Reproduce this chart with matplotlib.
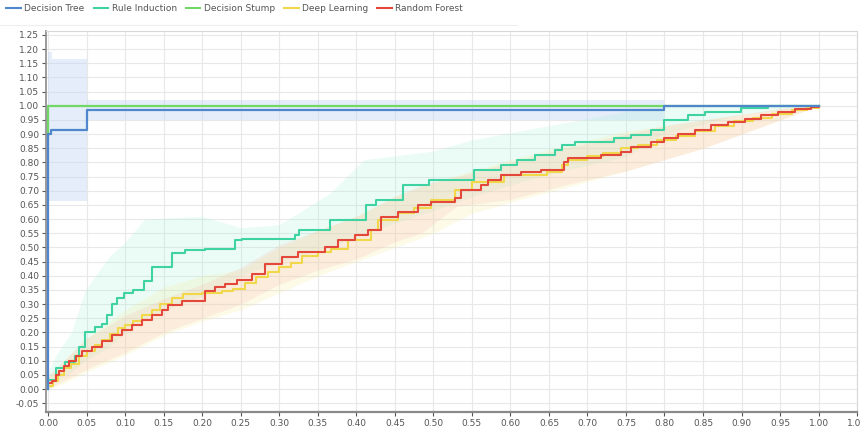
import matplotlib
matplotlib.use("Agg")
import matplotlib.pyplot as plt
import numpy as np

# curve data
dt_x = [0.0, 0.0, 0.004, 0.05, 0.80, 1.0]
dt_y = [0.0, 0.90, 0.915, 0.985, 1.0, 1.0]
dt_band_x = [0.0, 0.005, 0.05, 0.80, 1.0]
dt_band_lo = [0.665, 0.665, 0.95, 1.0, 1.0]
dt_band_hi = [1.19, 1.165, 1.02, 1.0, 1.0]

ds_x = [0.0, 0.0, 1.0]
ds_y = [0.90, 1.0, 1.0]

ri_x = [0.0, 0.010, 0.022, 0.035, 0.040, 0.048, 0.061, 0.070, 0.076, 0.083, 0.089, 0.098,
        0.110, 0.124, 0.135, 0.161, 0.178, 0.204, 0.242, 0.251, 0.320, 0.326, 0.366, 0.412,
        0.425, 0.460, 0.494, 0.553, 0.588, 0.609, 0.632, 0.658, 0.667, 0.684, 0.735, 0.757,
        0.783, 0.800, 0.830, 0.852, 0.899, 0.934, 1.0]
ri_y = [0.032, 0.073, 0.097, 0.115, 0.150, 0.200, 0.220, 0.230, 0.260, 0.300, 0.320, 0.340,
        0.350, 0.380, 0.430, 0.480, 0.490, 0.495, 0.525, 0.530, 0.545, 0.560, 0.596, 0.649,
        0.667, 0.720, 0.737, 0.773, 0.790, 0.808, 0.826, 0.844, 0.861, 0.873, 0.885, 0.897,
        0.914, 0.950, 0.967, 0.979, 0.991, 0.998, 1.0]
ri_band_x = [0.0, 0.01, 0.03, 0.048, 0.08, 0.10, 0.125, 0.20, 0.25, 0.30, 0.365, 0.41,
             0.50, 0.55, 0.65, 0.75, 0.80, 0.90, 1.0]
ri_band_lo = [0.0, 0.03, 0.06, 0.10, 0.15, 0.20, 0.25, 0.33, 0.40, 0.45, 0.50, 0.55,
              0.63, 0.68, 0.76, 0.82, 0.90, 0.97, 1.0]
ri_band_hi = [0.06, 0.12, 0.20, 0.35, 0.47, 0.52, 0.60, 0.61, 0.57, 0.58, 0.69, 0.81,
              0.84, 0.88, 0.93, 0.98, 1.0, 1.0, 1.0]

dl_x = [0.0, 0.006, 0.012, 0.020, 0.030, 0.040, 0.050, 0.060, 0.070, 0.080, 0.090, 0.100,
        0.110, 0.122, 0.135, 0.145, 0.160, 0.175, 0.200, 0.225, 0.240, 0.255, 0.270, 0.285,
        0.300, 0.315, 0.330, 0.350, 0.367, 0.389, 0.419, 0.428, 0.454, 0.475, 0.497, 0.528,
        0.550, 0.592, 0.648, 0.667, 0.675, 0.700, 0.720, 0.743, 0.765, 0.790, 0.815, 0.840,
        0.865, 0.890, 0.915, 0.940, 0.965, 0.985, 1.0]
dl_y = [0.010, 0.030, 0.050, 0.075, 0.090, 0.115, 0.135, 0.155, 0.175, 0.195, 0.215, 0.225,
        0.240, 0.260, 0.280, 0.300, 0.320, 0.335, 0.338, 0.345, 0.355, 0.375, 0.395, 0.415,
        0.430, 0.445, 0.470, 0.485, 0.496, 0.526, 0.561, 0.596, 0.620, 0.640, 0.667, 0.702,
        0.730, 0.755, 0.767, 0.790, 0.808, 0.822, 0.835, 0.850, 0.862, 0.878, 0.895, 0.912,
        0.928, 0.945, 0.958, 0.972, 0.984, 0.993, 1.0]
dl_band_x = [0.0, 0.02, 0.05, 0.10, 0.15, 0.20, 0.25, 0.30, 0.35, 0.40, 0.45, 0.50, 0.55,
             0.60, 0.67, 0.75, 0.80, 0.85, 0.90, 0.95, 1.0]
dl_band_lo = [0.0, 0.02, 0.06, 0.12, 0.19, 0.24, 0.28, 0.34, 0.40, 0.45, 0.50, 0.55, 0.62,
              0.66, 0.71, 0.77, 0.81, 0.85, 0.90, 0.95, 1.0]
dl_band_hi = [0.04, 0.10, 0.18, 0.28, 0.36, 0.40, 0.42, 0.50, 0.56, 0.61, 0.68, 0.73, 0.77,
              0.81, 0.86, 0.91, 0.93, 0.95, 0.97, 0.99, 1.0]

rf_x = [0.0, 0.005, 0.010, 0.014, 0.020, 0.027, 0.036, 0.044, 0.057, 0.070, 0.083, 0.096,
        0.109, 0.122, 0.135, 0.148, 0.156, 0.174, 0.204, 0.217, 0.230, 0.245, 0.264, 0.281,
        0.303, 0.324, 0.359, 0.376, 0.398, 0.415, 0.432, 0.454, 0.480, 0.497, 0.528, 0.536,
        0.562, 0.571, 0.588, 0.614, 0.640, 0.670, 0.675, 0.718, 0.743, 0.757, 0.783, 0.800,
        0.817, 0.840, 0.861, 0.882, 0.904, 0.925, 0.947, 0.970, 0.990, 1.0]
rf_y = [0.020, 0.030, 0.050, 0.063, 0.080, 0.098, 0.116, 0.133, 0.150, 0.168, 0.190, 0.210,
        0.227, 0.245, 0.262, 0.280, 0.297, 0.312, 0.345, 0.362, 0.370, 0.385, 0.408, 0.443,
        0.467, 0.485, 0.502, 0.526, 0.543, 0.561, 0.608, 0.626, 0.650, 0.661, 0.673, 0.702,
        0.720, 0.737, 0.755, 0.767, 0.773, 0.800, 0.814, 0.826, 0.838, 0.855, 0.873, 0.885,
        0.902, 0.915, 0.932, 0.942, 0.955, 0.966, 0.979, 0.988, 0.996, 1.0]
rf_band_x = [0.0, 0.02, 0.05, 0.10, 0.15, 0.20, 0.25, 0.30, 0.35, 0.40, 0.45, 0.484, 0.53,
             0.60, 0.67, 0.75, 0.80, 0.85, 0.90, 0.95, 1.0]
rf_band_lo = [0.0, 0.03, 0.07, 0.13, 0.20, 0.25, 0.30, 0.37, 0.42, 0.46, 0.52, 0.55, 0.645,
              0.67, 0.72, 0.77, 0.81, 0.85, 0.90, 0.95, 1.0]
rf_band_hi = [0.05, 0.10, 0.18, 0.26, 0.32, 0.37, 0.43, 0.51, 0.56, 0.61, 0.68, 0.72, 0.75,
              0.80, 0.85, 0.90, 0.93, 0.95, 0.97, 0.99, 1.0]

names = ["Decision Tree", "Rule Induction", "Decision Stump", "Deep Learning", "Random Forest"]
colors = ["#4f86cc", "#3fd3a2", "#72d865", "#f0d84a", "#e4483b"]

fig = plt.figure(figsize=(8.61, 4.28), dpi=100)
ax = fig.add_axes([0.0534, 0.038, 0.9420, 0.8895])

# shaded bands (soft, like the blurred original)
ax.fill_between(dt_band_x, dt_band_lo, dt_band_hi, step="post", color="#c4d9f2", alpha=0.45, lw=0, zorder=1)
ax.fill_between(ri_band_x, ri_band_lo, ri_band_hi, color="#a8f2dc", alpha=0.22, lw=0, zorder=1)
ax.fill_between(dl_band_x, dl_band_lo, dl_band_hi, color="#f6ea9a", alpha=0.22, lw=0, zorder=1)
ax.fill_between(rf_band_x, rf_band_lo, rf_band_hi, color="#f7bcae", alpha=0.22, lw=0, zorder=1)

# lines
ax.plot(ds_x, ds_y, drawstyle="steps-post", color=colors[2], lw=1.6, zorder=3)
ax.plot(dt_x, dt_y, drawstyle="steps-post", color=colors[0], lw=1.6, zorder=4)
ax.plot(ri_x, ri_y, drawstyle="steps-post", color=colors[1], lw=1.5, zorder=3)
ax.plot(dl_x, dl_y, drawstyle="steps-post", color=colors[3], lw=1.5, zorder=3)
ax.plot(rf_x, rf_y, drawstyle="steps-post", color=colors[4], lw=1.5, zorder=3)

ax.set_xlim(-0.003, 1.05)
ax.set_ylim(-0.08, 1.264)
ax.set_xticks(np.arange(0, 1.051, 0.05))
ax.set_yticks(np.arange(-0.05, 1.251, 0.05))
ax.set_xticklabels(["%.2f" % v for v in np.arange(0, 1.051, 0.05)])
ax.set_yticklabels(["%.2f" % v for v in np.arange(-0.05, 1.251, 0.05)])
ax.tick_params(labelsize=6.5, colors="#555555", length=3, width=0.8, pad=2)
ax.grid(True, color="#e8e8e8", lw=0.8)
ax.set_axisbelow(True)
for s in ["top", "right"]:
    ax.spines[s].set_color("#d8d8d8")
    ax.spines[s].set_linewidth(0.8)
ax.spines["left"].set_color("#8a8a8a")
ax.spines["bottom"].set_color("#8a8a8a")
ax.spines["left"].set_linewidth(1.2)
ax.spines["bottom"].set_linewidth(1.6)

# legend along the top
handles = [plt.Line2D([], [], color=c, lw=1.5) for c in colors]
leg = fig.legend(handles, names, loc="upper left", bbox_to_anchor=(0.0, 1.005), ncol=5,
                 frameon=False, fontsize=6.5, handlelength=1.6, handletextpad=0.4,
                 columnspacing=1.0, borderaxespad=0.3)
for t in leg.get_texts():
    t.set_color("#555555")
fig.add_artist(plt.Line2D([0.0, 0.6], [0.942, 0.942], color="#eeeeee", lw=0.8))

fig.savefig("out.png", dpi=100)
